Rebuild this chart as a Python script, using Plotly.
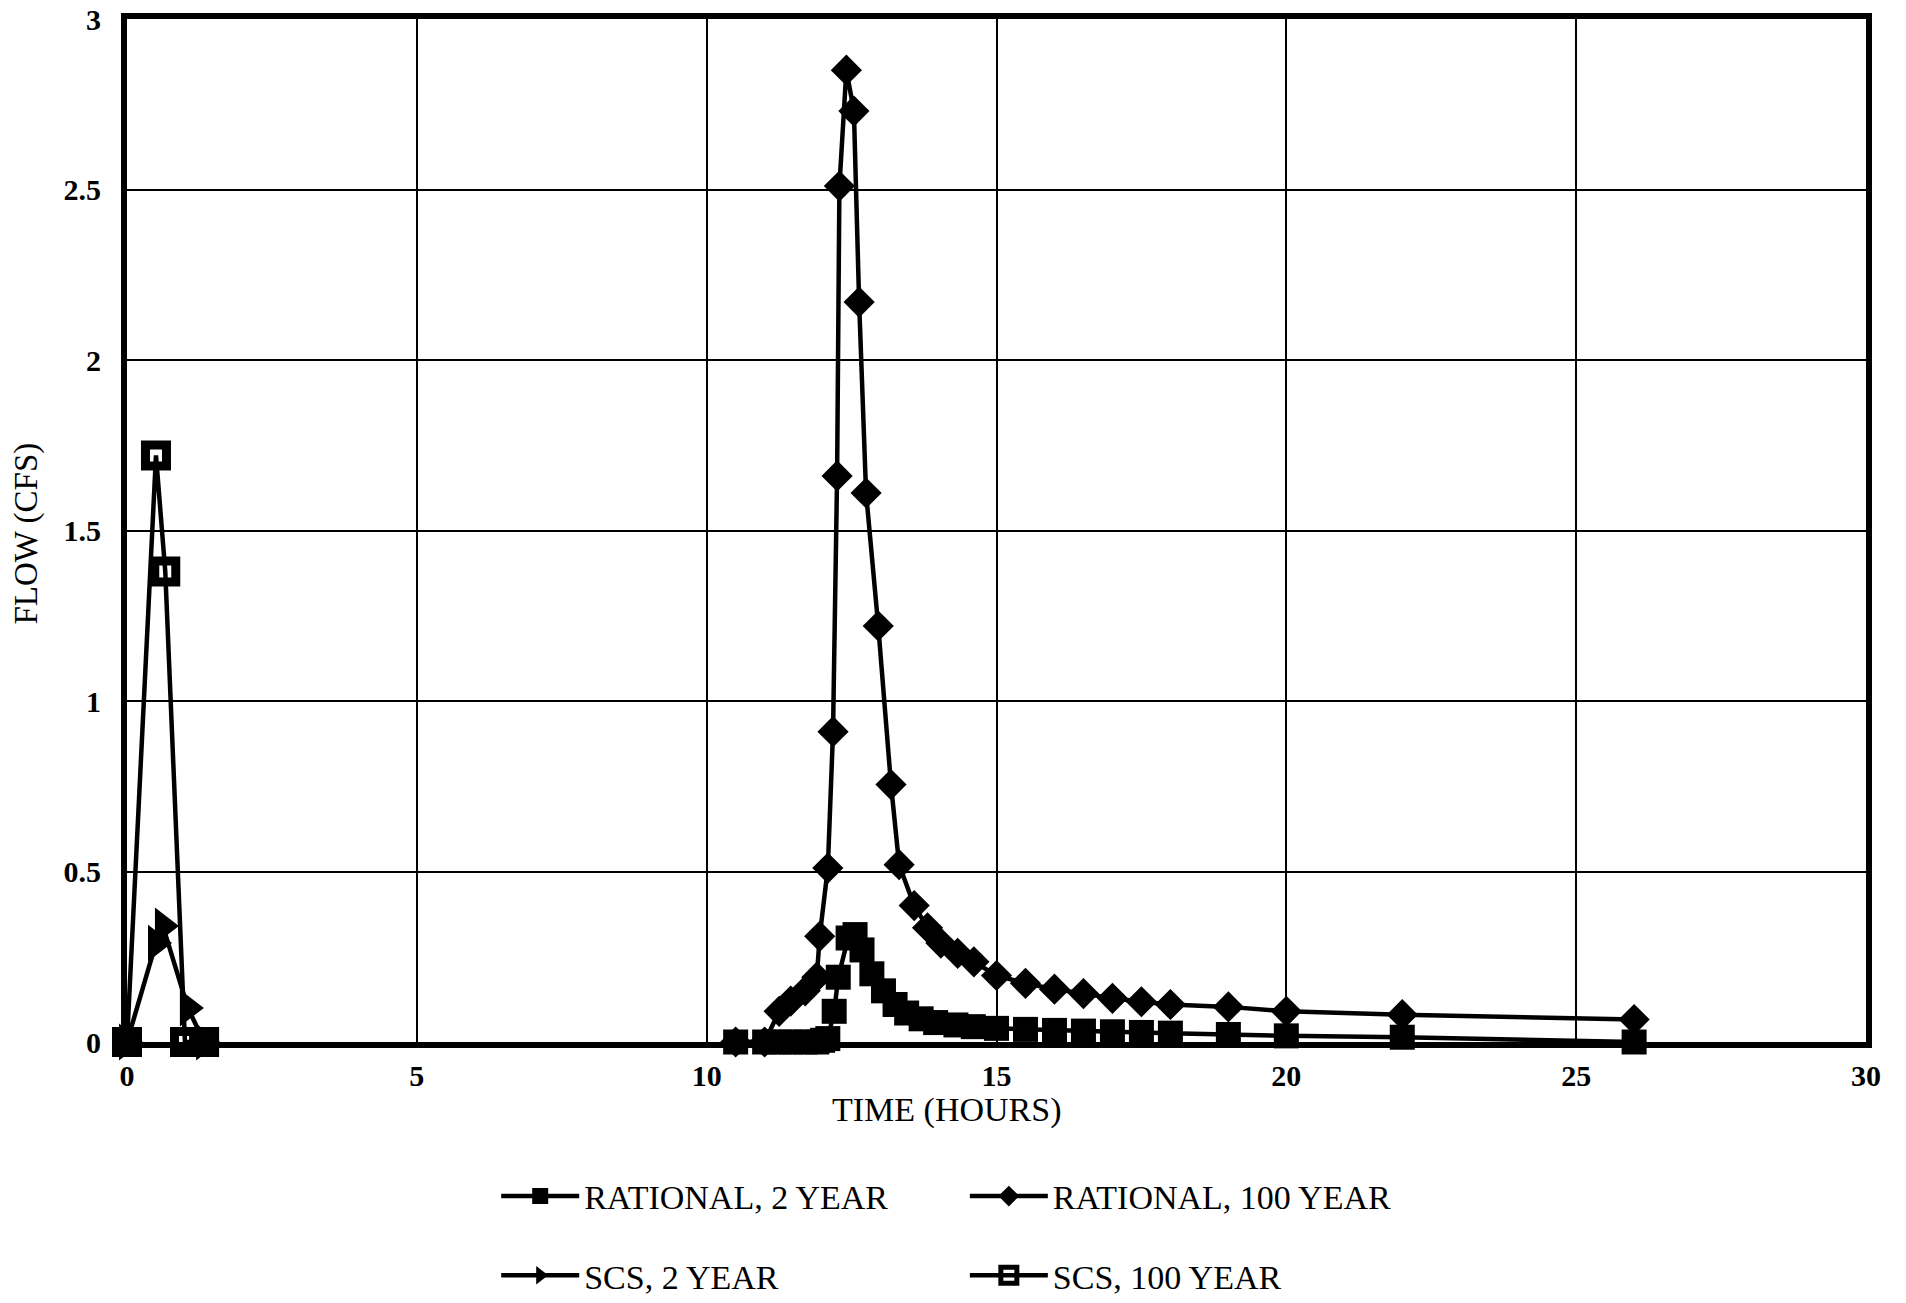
import plotly.graph_objects as go

# ---- data ----
time_r2 = [10.5, 11.0, 11.25, 11.45, 11.7, 11.9, 12.0, 12.09, 12.2, 12.27, 12.44, 12.56,
           12.68, 12.85, 13.05, 13.25, 13.45, 13.7, 13.95, 14.3, 14.6, 15.0, 15.5, 16.0,
           16.5, 17.0, 17.5, 18.0, 19.0, 20.0, 22.0, 26.0]
flow_r2 = [0, 0, 0, 0, 0, 0, 0.005, 0.01, 0.09, 0.19, 0.305, 0.315,
           0.27, 0.2, 0.15, 0.11, 0.085, 0.068, 0.057, 0.05, 0.045, 0.04, 0.037, 0.034,
           0.032, 0.03, 0.028, 0.026, 0.022, 0.018, 0.014, 0.0]

time_r100 = [10.5, 11.0, 11.25, 11.45, 11.7, 11.9, 11.95, 12.09, 12.18, 12.25, 12.29, 12.41,
             12.54, 12.63, 12.75, 12.96, 13.18, 13.32, 13.58, 13.81, 14.04, 14.33, 14.61,
             15.0, 15.5, 16.0, 16.5, 17.0, 17.5, 18.0, 19.0, 20.0, 22.0, 26.0]
flow_r100 = [0, 0, 0.09, 0.12, 0.15, 0.19, 0.31, 0.51, 0.91, 1.66, 2.51, 2.85,
             2.73, 2.17, 1.61, 1.22, 0.755, 0.52, 0.40, 0.335, 0.29, 0.26, 0.235,
             0.195, 0.172, 0.155, 0.142, 0.128, 0.118, 0.11, 0.103, 0.09, 0.08, 0.066]

time_scs2 = [0, 0.5, 0.62, 1.05, 1.33]
flow_scs2 = [0, 0.29, 0.34, 0.1, 0]

time_scs100 = [0, 0.5, 0.66, 1.0, 1.33]
flow_scs100 = [0, 1.72, 1.38, 0, 0]

x_ticks = [0, 5, 10, 15, 20, 25, 30]
y_ticks = [0, 0.5, 1, 1.5, 2, 2.5, 3]
y_tick_labels = ["0", "0.5", "1", "1.5", "2", "2.5", "3"]

names = ["RATIONAL, 2 YEAR", "RATIONAL, 100 YEAR", "SCS, 2 YEAR", "SCS, 100 YEAR"]

FONT = "Liberation Serif"
LW = 4.5

fig = go.Figure()

fig.add_trace(go.Scatter(
    x=time_r100, y=flow_r100, name=names[1], mode="lines+markers",
    line=dict(color="black", width=LW),
    marker=dict(symbol="diamond", size=24, color="black"),
    cliponaxis=False, legend="legend2", legendgroup="r100"))

fig.add_trace(go.Scatter(
    x=time_r2, y=flow_r2, name=names[0], mode="lines+markers",
    line=dict(color="black", width=LW),
    marker=dict(symbol="square", size=25, color="black"),
    cliponaxis=False, legend="legend", legendgroup="r2"))

fig.add_trace(go.Scatter(
    x=time_scs2, y=flow_scs2, name=names[2], mode="lines+markers",
    line=dict(color="black", width=LW),
    marker=dict(symbol="triangle-right", size=32, color="black"),
    cliponaxis=False, legend="legend", legendgroup="scs2"))

fig.add_trace(go.Scatter(
    x=time_scs100, y=flow_scs100, name=names[3], mode="lines+markers",
    line=dict(color="black", width=LW),
    marker=dict(symbol="square-open", size=21, color="black",
                line=dict(color="black", width=9)),
    cliponaxis=False, legend="legend2", legendgroup="scs100"))

axis_common = dict(
    showline=True, mirror=True, linewidth=6, linecolor="black",
    showgrid=True, gridcolor="black", gridwidth=1.5,
    zeroline=False, ticks="", automargin=False,
    tickfont=dict(family=FONT, size=30, color="black", weight="bold"),
)

fig.update_xaxes(range=[0, 30], tickvals=x_ticks, ticktext=[str(v) for v in x_ticks],
                 ticklabelstandoff=2, **axis_common)
fig.update_yaxes(range=[0, 3], tickvals=y_ticks, ticktext=y_tick_labels,
                 ticklabelstandoff=14, **axis_common)

legend_common = dict(
    orientation="v", xanchor="left", yanchor="top", yref="container",
    font=dict(family=FONT, size=34, color="black"),
    bgcolor="rgba(0,0,0,0)", tracegroupgap=32, itemwidth=78,
)

fig.update_layout(
    width=1906, height=1303,
    margin=dict(l=127, r=40, t=19, b=261, autoexpand=False),
    paper_bgcolor="white", plot_bgcolor="white",
    font=dict(family=FONT, color="black"),
    showlegend=True,
    legend=dict(x=0.2123, y=0.104, **legend_common),
    legend2=dict(x=0.4818, y=0.104, **legend_common),
    annotations=[
        dict(text="TIME (HOURS)", xref="paper", yref="paper", x=0.471, y=-0.066,
             xanchor="center", yanchor="middle", showarrow=False,
             font=dict(family=FONT, size=34, color="black")),
        dict(text="FLOW (CFS)", xref="paper", yref="paper", x=-0.0575, y=0.497,
             xanchor="center", yanchor="middle", showarrow=False, textangle=-90,
             font=dict(family=FONT, size=33, color="black")),
    ],
)

fig.write_html("out.html")
